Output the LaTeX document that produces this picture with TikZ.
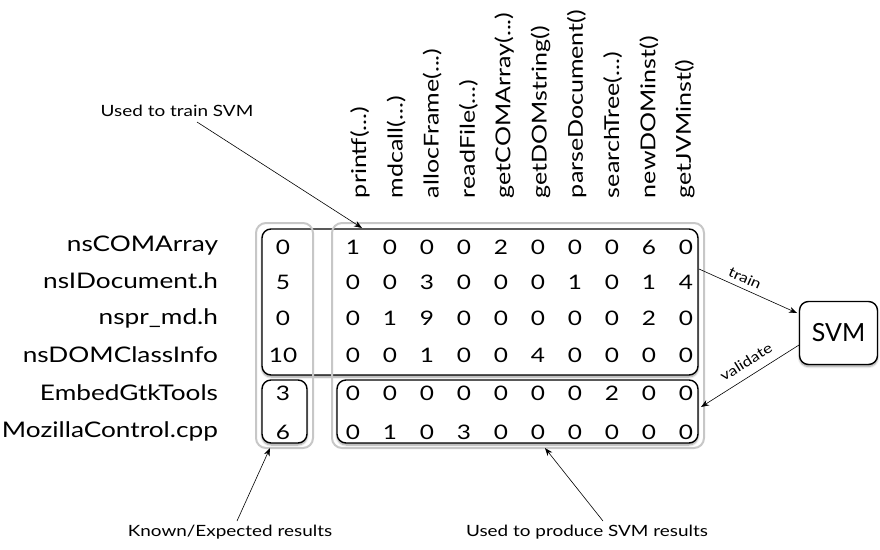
\documentclass[tikz,border=0pt]{standalone}
\usepackage{fontspec}
\setmainfont{Lato}[FakeStretch=1.22]
\newfontfamily\plainlato{Lato}
\usetikzlibrary{arrows.meta,shadows.blur}
\def\fnargs{...}
\begin{document}
\begin{tikzpicture}[x=1pt,y=-1pt,
  every node/.style={inner sep=0pt, outer sep=0pt},
  blackbox/.style={draw=black, line width=1.4pt, rounded corners=9pt, fill=white,
    blur shadow={shadow xshift=0pt, shadow yshift=-2pt, shadow blur steps=8, shadow opacity=40}},
  graybox/.style={draw=black!22, line width=2pt, rounded corners=10pt},
  rowlabel/.style={anchor=east, font=\fontsize{21.5}{25}\selectfont},
  cell/.style={font=\fontsize{20}{24}\selectfont},
  colhead/.style={anchor=west, rotate=90, font=\fontsize{20.5}{24}\selectfont},
  note/.style={font=\fontsize{15.5}{18}\selectfont},
  edgelabel/.style={font=\fontsize{14}{16}\selectfont},
  pointer/.style={line width=0.6pt, -{Stealth[length=8pt,width=6pt]}}]
\useasboundingbox (0,0) rectangle (880,549);

% framed groups of the matrix
\node[blackbox, minimum width=436pt, minimum height=146pt] (trainbox) at (480,302) {};
\node[blackbox, minimum width=45pt, minimum height=63pt] (expbox) at (284.5,411.5) {};
\node[blackbox, minimum width=361pt, minimum height=63pt] (valbox) at (517.5,411.5) {};
\node[graybox, minimum width=57pt, minimum height=225pt] (resultcol) at (284.5,335.5) {};
\node[graybox, minimum width=372pt, minimum height=225pt] (featurecols) at (518,335.5) {};

% classifier
\node[blackbox, minimum width=78pt, minimum height=63pt, font=\plainlato\fontsize{25}{30}\selectfont] (svm) at (838.5,333) {SVM};

% row labels
\foreach \name [count=\i] in {nsCOMArray,nsIDocument.h,nspr\_md.h,nsDOMClassInfo,EmbedGtkTools,MozillaControl.cpp}{
  \pgfmathsetmacro\ry{{0,246,281,318,355,393,431}[\i]}
  \node[rowlabel] (row\i) at (218,\ry) {\name};
}

% column headers
\foreach \name [count=\j] in {printf(\fnargs),mdcall(\fnargs),allocFrame(\fnargs),readFile(\fnargs),getCOMArray(\fnargs),getDOMstring(),parseDocument(),searchTree(\fnargs),newDOMinst(),getJVMinst()}{
  \node[colhead] (col\j) at ({360+36.1*(\j-1)},198) {\name};
}

% matrix values: known result, then function counts
\foreach \vals [count=\i] in {
  {0,1,0,0,0,2,0,0,0,6,0},
  {5,0,0,3,0,0,0,1,0,1,4},
  {0,0,1,9,0,0,0,0,0,2,0},
  {10,0,0,1,0,0,4,0,0,0,0},
  {3,0,0,0,0,0,0,0,2,0,0},
  {6,0,1,0,3,0,0,0,0,0,0}}{
  \pgfmathsetmacro\ry{{0,247,282,318,355,393,432}[\i]}
  \foreach \v [count=\k] in \vals {
    \pgfmathsetmacro\cx{\k==1 ? 283 : 353+37*(\k-2)}
    \node[cell] (v\i-\k) at (\cx,\ry) {\v};
  }
}

% annotations
\node[note] (trainnote) at (177,111) {Used to train SVM};
\node[note] (expnote) at (230,532) {Known/Expected results};
\node[note] (prodnote) at (587,532) {Used to produce SVM results};

\coordinate (trainstart) at (197,122);
\coordinate (trainhit) at (362,228);
\coordinate (expstart) at (237,521);
\coordinate (exphit) at (270,448);
\coordinate (prodstart) at (603,521);
\coordinate (prodhit) at (545,448);
\draw[pointer] (trainstart) -- (trainhit);
\draw[pointer] (expstart) -- (exphit);
\draw[pointer] (prodstart) -- (prodhit);

% flow to and from the classifier
\coordinate (trainout) at (699,269);
\coordinate (svmin) at (797,313);
\coordinate (svmout) at (799,345);
\coordinate (valin) at (701,407);
\draw[pointer] (trainout) -- (svmin);
\draw[pointer] (svmout) -- (valin);
\node[edgelabel, rotate=-24] (trainlbl) at (745,278) {train};
\node[edgelabel, rotate=32] (vallbl) at (746,362) {validate};
\end{tikzpicture}
\end{document}
